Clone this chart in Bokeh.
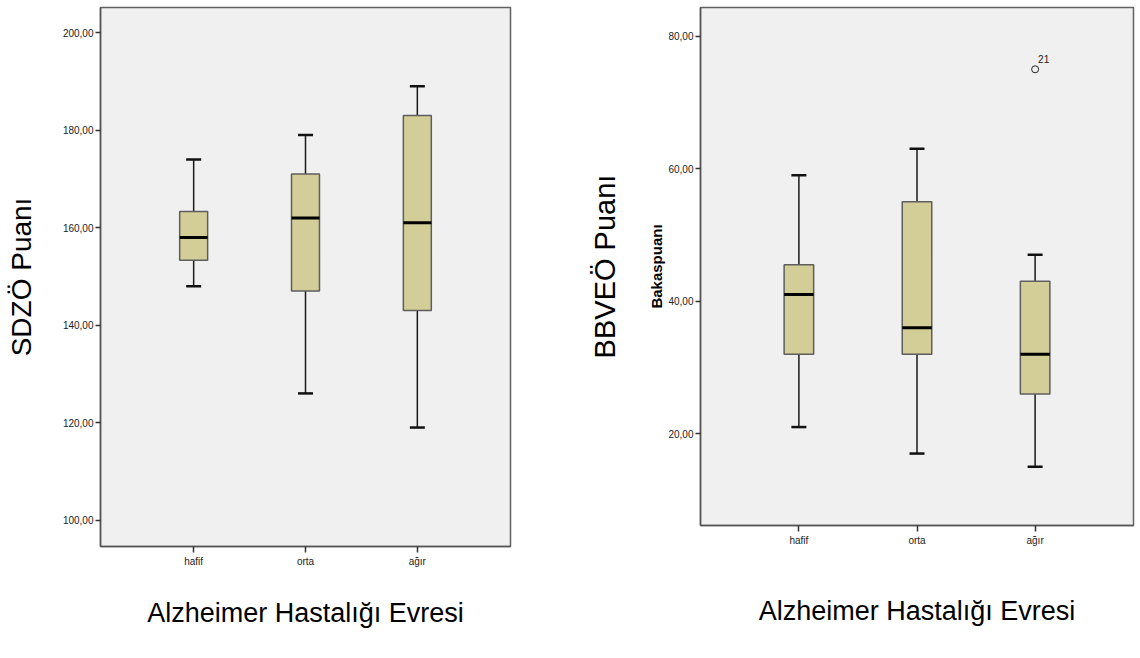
from bokeh.plotting import figure
from bokeh.models import (ColumnDataSource, Whisker, TeeHead, FactorRange, FixedTicker,
                          CustomJSTickFormatter, Title, Range1d)
from bokeh.layouts import row
from bokeh.core.properties import value
from bokeh.embed import file_html
from bokeh.resources import INLINE

# ---------------- data ----------------
cats = ["hafif", "orta", "ağır"]

sdzo_min = [148, 126, 119]
sdzo_q1 = [153.3, 147, 143]
sdzo_med = [158, 162, 161]
sdzo_q3 = [163.3, 171, 183]
sdzo_max = [174, 179, 189]
sdzo_ticks = [100, 120, 140, 160, 180, 200]

bbveo_min = [21, 17, 15]
bbveo_q1 = [32, 32, 26]
bbveo_med = [41, 36, 32]
bbveo_q3 = [45.5, 55, 43]
bbveo_max = [59, 63, 47]
bbveo_ticks = [20, 40, 60, 80]

outlier_cat = ["ağır"]
outlier_val = [75]
outlier_id = ["21"]

x_title = "Alzheimer Hastalığı Evresi"

SANS = "Liberation Sans"
BOX_FILL = "#d3ce97"


def make_fig(fw, fh, mb, yr, ticks, mins, q1, med, q3, maxs,
             ylabel, ylabel_size, ylabel_style, ylabel_standoff, xlabel_standoff):
    p = figure(frame_width=fw, frame_height=fh, output_backend="svg", toolbar_location=None,
               x_range=FactorRange(factors=cats, range_padding=0.333,
                                   range_padding_units="absolute"),
               y_range=Range1d(*yr),
               min_border_left=mb[0], min_border_right=mb[1],
               min_border_top=mb[2], min_border_bottom=mb[3])
    p.background_fill_color = "#f0f0f0"
    p.border_fill_color = "white"
    p.outline_line_color = "#626262"
    p.outline_line_width = 1.5
    p.xgrid.visible = False
    p.ygrid.visible = False

    src = ColumnDataSource(dict(cats=cats, mn=mins, q1=q1, med=med, q3=q3, mx=maxs))

    wh = Whisker(source=src, base="cats", upper="mx", lower="mn",
                 line_color="#1a1a1a", line_width=1.5, level="underlay",
                 upper_head=TeeHead(size=15, line_color="#111111", line_width=2.5),
                 lower_head=TeeHead(size=15, line_color="#111111", line_width=2.5))
    p.add_layout(wh)

    p.vbar(x="cats", width=0.25, bottom="q1", top="q3", source=src,
           fill_color=BOX_FILL, line_color="#5e5e5e", line_width=1.5)
    p.vbar(x="cats", width=0.25, bottom="med", top="med", source=src,
           fill_color=None, line_color="black", line_width=3)

    # y axis
    p.yaxis.ticker = FixedTicker(ticks=ticks)
    p.yaxis.formatter = CustomJSTickFormatter(code="return tick.toFixed(2).replace('.', ',');")
    p.yaxis.major_tick_out = 5
    p.yaxis.major_tick_in = 0
    p.yaxis.minor_tick_line_color = None
    p.yaxis.major_tick_line_color = "#333333"
    p.yaxis.major_tick_line_width = 1.5
    p.yaxis.axis_line_color = "#555555"
    p.yaxis.axis_line_width = 1.5
    p.yaxis.major_label_standoff = 2
    p.yaxis.major_label_text_font = SANS
    p.yaxis.major_label_text_font_size = "10px"
    p.yaxis.major_label_text_color = "#222222"
    p.yaxis.axis_label = ylabel
    p.yaxis.axis_label_text_font = SANS
    p.yaxis.axis_label_text_font_size = ylabel_size
    p.yaxis.axis_label_text_font_style = ylabel_style
    p.yaxis.axis_label_text_color = "black"
    p.yaxis.axis_label_standoff = ylabel_standoff

    # x axis
    p.xaxis.major_tick_out = 6
    p.xaxis.major_tick_in = 0
    p.xaxis.major_tick_line_color = "#333333"
    p.xaxis.major_tick_line_width = 1.5
    p.xaxis.axis_line_color = "#555555"
    p.xaxis.axis_line_width = 1.5
    p.xaxis.major_label_standoff = 3
    p.xaxis.major_label_text_font = SANS
    p.xaxis.major_label_text_font_size = "10px"
    p.xaxis.major_label_text_color = "#222222"
    p.xaxis.axis_label = x_title
    p.xaxis.axis_label_text_font = SANS
    p.xaxis.axis_label_text_font_size = "27px"
    p.xaxis.axis_label_text_font_style = "normal"
    p.xaxis.axis_label_text_color = "black"
    p.xaxis.axis_label_standoff = xlabel_standoff
    return p


p1 = make_fig(410, 539, (100, 50, 7, 100), (94.6, 205.15), sdzo_ticks,
              sdzo_min, sdzo_q1, sdzo_med, sdzo_q3, sdzo_max,
              "SDZÖ Puanı", "28px", "normal", 23, 28)

p2 = make_fig(433, 518, (140, 5, 7, 121), (6.14, 84.33), bbveo_ticks,
              bbveo_min, bbveo_q1, bbveo_med, bbveo_q3, bbveo_max,
              "Bakaspuanı", "15px", "bold", 0, 47)

p2.scatter(x=outlier_cat, y=outlier_val, marker="circle", size=7,
           fill_color=None, line_color="#222222", line_width=1)
p2.text(x=outlier_cat, y=outlier_val, text=outlier_id, x_offset=3, y_offset=-6,
        text_font=value(SANS), text_font_size="10px", text_baseline="bottom",
        text_align="left", text_color="#222222")

p2.add_layout(Title(text="BBVEÖ Puanı", align="center", text_font=SANS,
                    text_font_size="29px", text_font_style="normal",
                    text_color="black", standoff=50), "left")

layout = row(p1, p2)
open("out.html", "w").write(file_html(layout, INLINE))
